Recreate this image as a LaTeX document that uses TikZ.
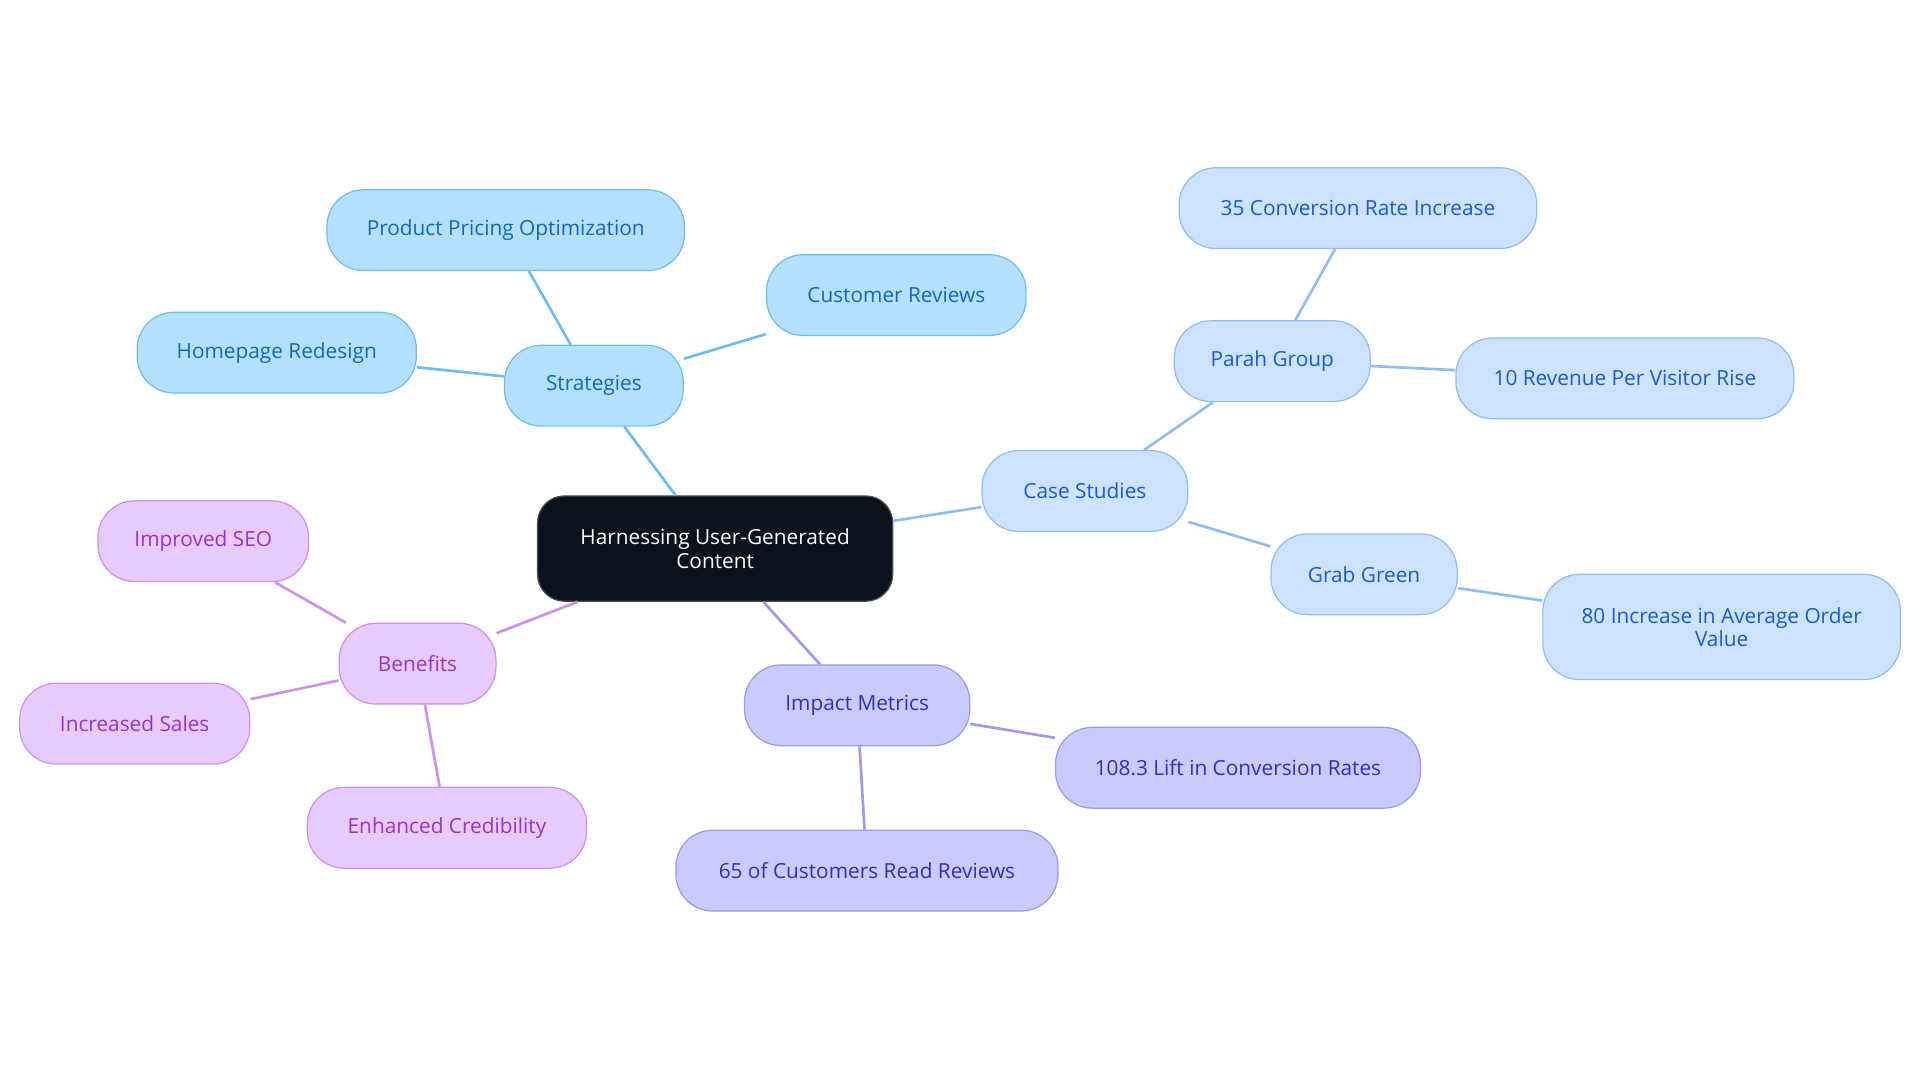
\documentclass[tikz,border=0pt]{standalone}
\usepackage{fontspec}
\setmainfont{Open Sans}
\begin{document}
\begin{tikzpicture}[x=1pt,y=-1pt,
 base/.style={draw,line width=1pt,rounded corners=30pt,minimum height=66pt,align=center,font=\fontsize{17}{19}\selectfont,inner sep=0pt},
 s/.style={base,fill=sF,draw=sD,text=sT},
 c/.style={base,fill=cF,draw=cD,text=cT},
 m/.style={base,fill=mF,draw=mD,text=mT},
 b/.style={base,fill=bF,draw=bD,text=bT},
 e/.style={line width=2.2pt}]
\definecolor{sF}{HTML}{B5E0FD}\definecolor{sD}{HTML}{6FBDF0}\definecolor{sT}{HTML}{0F6AB8}
\definecolor{cF}{HTML}{CDE2FD}\definecolor{cD}{HTML}{91BEF0}\definecolor{cT}{HTML}{1A5CCB}
\definecolor{mF}{HTML}{CACAFD}\definecolor{mD}{HTML}{9B9BEE}\definecolor{mT}{HTML}{3131B8}
\definecolor{bF}{HTML}{E8CBFD}\definecolor{bD}{HTML}{CB92EE}\definecolor{bT}{HTML}{9A32CC}
\definecolor{rF}{HTML}{0B121C}
\useasboundingbox (0,0) rectangle (1568,885);
\node[base,fill=rF,draw=black!70,text=white,rounded corners=22pt,minimum width=290pt,minimum height=86pt] (r) at (584,448) {Harnessing User-Generated\\Content};
\node[s,minimum width=146pt] (st) at (485,315) {Strategies};
\node[s,minimum width=292pt] (s1) at (413,188) {Product Pricing Optimization};
\node[s,minimum width=212pt] (s2) at (732,241) {Customer Reviews};
\node[s,minimum width=228pt] (s3) at (226,288) {Homepage Redesign};
\node[c,minimum width=168pt] (cs) at (886,401) {Case Studies};
\node[c,minimum width=160pt] (pg) at (1039,295) {Parah Group};
\node[c,minimum width=292pt] (p1) at (1109,170) {35 Conversion Rate Increase};
\node[c,minimum width=276pt] (p2) at (1327,309) {10 Revenue Per Visitor Rise};
\node[c,minimum width=152pt] (gg) at (1114,469) {Grab Green};
\node[c,minimum width=292pt,minimum height=86pt] (g1) at (1406,512) {80 Increase in Average Order\\Value};
\node[m,minimum width=184pt] (im) at (700,576) {Impact Metrics};
\node[m,minimum width=298pt] (i1) at (1011,627) {108.3 Lift in Conversion Rates};
\node[m,minimum width=312pt] (i2) at (708,711) {65 of Customers Read Reviews};
\node[b,minimum width=128pt] (bn) at (341,542) {Benefits};
\node[b,minimum width=172pt] (b1) at (166,442) {Improved SEO};
\node[b,minimum width=188pt] (b2) at (110,591) {Increased Sales};
\node[b,minimum width=228pt] (b3) at (365,676) {Enhanced Credibility};
\draw[e,sD] (r)--(st) (st)--(s1) (st)--(s2) (st)--(s3);
\draw[e,cD] (r)--(cs) (cs)--(pg) (pg)--(p1) (pg)--(p2) (cs)--(gg) (gg)--(g1);
\draw[e,mD] (r)--(im) (im)--(i1) (im)--(i2);
\draw[e,bD] (r)--(bn) (bn)--(b1) (bn)--(b2) (bn)--(b3);
\end{tikzpicture}
\end{document}
